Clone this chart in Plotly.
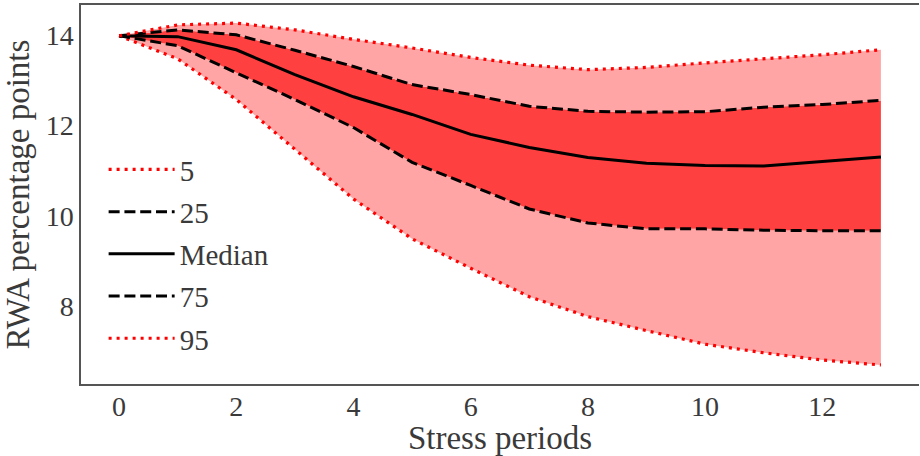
import plotly.graph_objects as go

periods = list(range(14))
p5 = [13.98, 13.47, 12.57, 11.47, 10.37, 9.49, 8.84, 8.21, 7.77, 7.46, 7.16, 6.97, 6.81, 6.70]
p25 = [13.98, 13.76, 13.16, 12.57, 11.95, 11.18, 10.67, 10.15, 9.84, 9.71, 9.71, 9.68, 9.67, 9.67]
median = [13.98, 13.96, 13.67, 13.12, 12.63, 12.24, 11.80, 11.51, 11.29, 11.16, 11.11, 11.10, 11.20, 11.30]
p75 = [13.98, 14.11, 14.00, 13.66, 13.30, 12.90, 12.68, 12.42, 12.31, 12.29, 12.30, 12.40, 12.46, 12.55]
p95 = [13.98, 14.22, 14.26, 14.11, 13.90, 13.71, 13.50, 13.33, 13.23, 13.28, 13.38, 13.47, 13.56, 13.67]

names = ["5", "25", "Median", "75", "95"]
LIGHT = "rgb(255,165,165)"
DARK = "rgb(255,64,64)"
FONT = "Liberation Serif"
TXT = "#3a3a3a"

dot = dict(color="red", width=3.2, dash="3px,5px")
dash = dict(color="black", width=3, dash="11px,4.8px")
solid = dict(color="black", width=3)

fig = go.Figure()

# shaded bands (no legend)
bands = [(p5, None), (p25, LIGHT), (median, DARK), (p75, DARK), (p95, LIGHT)]
for vals, fc in bands:
    kw = dict(fill="tonexty", fillcolor=fc) if fc else {}
    fig.add_trace(go.Scatter(x=periods, y=vals, mode="lines",
                             line=dict(width=0, color="rgba(0,0,0,0)"),
                             showlegend=False, hoverinfo="skip", **kw))

# percentile lines
for i, (vals, nm, ln) in enumerate([(p5, names[0], dot), (p25, names[1], dash), (median, names[2], solid),
                                    (p75, names[3], dash), (p95, names[4], dot)]):
    fig.add_trace(go.Scatter(x=periods, y=vals, name=nm, mode="lines", line=ln,
                             legendgroup=f"g{i}"))

fig.update_layout(
    width=920, height=456,
    margin=dict(l=81, r=1, t=5, b=72, autoexpand=False),
    plot_bgcolor="white", paper_bgcolor="white",
    font=dict(family=FONT, color=TXT, size=28),
    showlegend=True,
    legend=dict(x=0.027, y=0.633, xanchor="left", yanchor="top", traceorder="grouped",
                bgcolor="rgba(0,0,0,0)", font=dict(size=29, family=FONT, color=TXT),
                tracegroupgap=1.5, itemwidth=66),
    xaxis=dict(range=[-0.65, 13.65], tickvals=[0, 2, 4, 6, 8, 10, 12],
               showgrid=False, zeroline=False, showline=True, mirror=True,
               linecolor="#555", linewidth=1.5, ticks="", automargin=True,
               ticklabelstandoff=-3,
               tickfont=dict(size=28, family=FONT, color=TXT),
               title=dict(text="Stress periods", font=dict(size=33, family=FONT, color=TXT), standoff=9)),
    yaxis=dict(range=[6.28, 14.66], tickvals=[8, 10, 12, 14],
               showgrid=False, zeroline=False, showline=True, mirror=False,
               linecolor="#555", linewidth=1.5, ticks="", automargin=True,
               tickfont=dict(size=28, family=FONT, color=TXT),
               title=dict(text="RWA percentage points", font=dict(size=33, family=FONT, color=TXT), standoff=6)),
)

fig.write_html("out.html", config={"displayModeBar": False},
               post_script="document.body.style.margin='0';document.body.style.padding='0';")
